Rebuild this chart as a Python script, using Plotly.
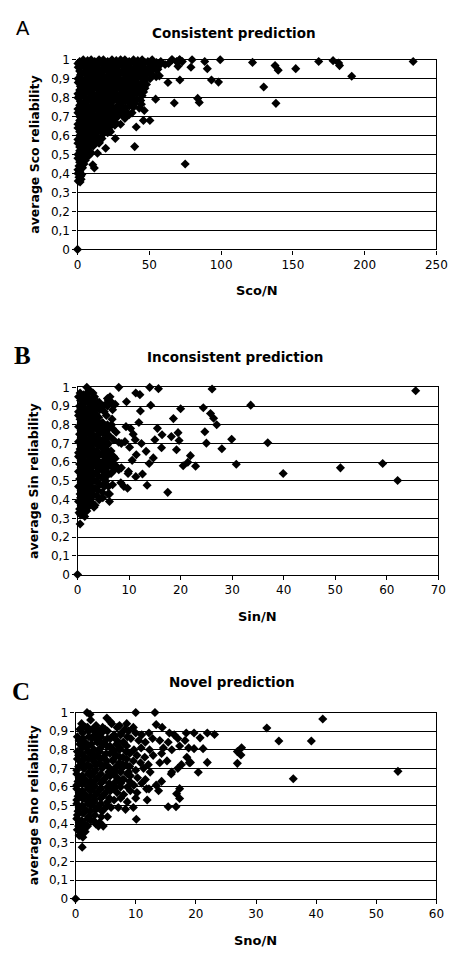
import plotly.graph_objects as go

# ---------------- Panel A: Consistent prediction ----------------
sco_x = [
    1.5, 4, 7, 9.5, 12, 15, 18, 21, 24, 27, 30, 33, 36, 39, 42, 45, 49, 52, 55, 58, 66, 69, 71, 73,
    0.3, 3, 5.5, 8, 10.5, 13.5, 16.5, 19.5, 22.5, 25.5, 28.5, 31.5, 34.5, 37.5, 40.5, 43.5, 47, 50.5, 54, 57,
    0.5, 3, 6, 9, 11.5, 14, 17, 20, 23, 26, 29, 32, 35, 38, 41, 44, 47, 50, 53, 56, 61,
    1.5, 4.5, 7.5, 10, 12.5, 15.5, 18.5, 21.5, 24.5, 27.5, 30.5, 33.5, 36.5, 39.5, 42.5, 45.5, 48.5, 51.5, 55,
    2, 5, 8, 10.5, 13, 16, 19, 22, 25, 28, 31, 34, 37, 40, 43, 46, 49, 52, 57,
    0.3, 3.5, 6.5, 9.5, 11.5, 14.5, 17.5, 20.5, 23.5, 26.5, 29.5, 32.5, 35.5, 38.5, 41.5, 44.5, 47.5, 50.5,
    0.5, 3.5, 6.5, 9, 12, 15, 18, 21, 24, 27, 30, 33, 36, 39, 42, 45, 48,
    2, 5, 8, 10.5, 13.5, 16.5, 19.5, 22.5, 25.5, 28.5, 31.5, 34.5, 37.5, 40.5, 43.5, 47,
    1.5, 4.5, 7.5, 10, 13, 16, 19, 22, 25, 28, 31, 34, 37, 40, 43, 46,
    0.3, 3, 6, 9, 11.5, 14.5, 17.5, 20.5, 23.5, 26.5, 29.5, 32.5, 35.5, 38.5, 41.5, 45,
    0.3, 3, 6, 8.5, 11, 14, 17, 20, 23, 26, 29, 32, 35, 38, 41, 44,
    2, 5, 7.5, 10, 12.5, 15.5, 18.5, 21.5, 24.5, 27.5, 30.5, 33.5, 36.5, 40, 44.5,
    1.5, 4.5, 7, 10, 12.5, 15, 18, 21, 24, 27, 30, 33, 36, 39, 43,
    0.3, 3, 5.5, 8.5, 11, 14, 16.5, 19.5, 22.5, 25.5, 28.5, 31, 34, 38,
    0.3, 3, 5.5, 8, 11, 14, 17, 20, 23, 26, 29, 32, 36,
    1.5, 4, 7, 9.5, 12.5, 15.5, 18.5, 21.5, 25, 28, 33,
    1.5, 4, 6.5, 9, 12, 15, 18, 21, 24, 27, 30,
    0.3, 3, 5.5, 8, 11, 13.5, 16.5, 19.5, 23, 26,
    0.3, 2.5, 5, 7.5, 10, 13, 16, 19, 22,
    1.5, 4, 6.5, 9, 11.5, 14.5, 18, 21,
    1.5, 3.5, 6, 8.5, 11, 14, 17,
    0.3, 2.5, 5, 7.5, 10, 12.5, 15.5,
    0.3, 2.5, 4.5, 7, 10, 13, 15,
    1.5, 3.5, 5.5, 8, 11,
    1.5, 3.5, 6, 8, 9.5,
    0.3, 2.5, 4.5, 7, 9,
    0.3, 2, 4, 6, 8,
    1.5, 3, 5.5,
    1, 2.5, 4.5,
    0.3, 2, 3.5,
    0.3, 1.5, 3,
    1, 2.2,
    0.5, 1.8, 2.5,
    0,
    233.8, 191, 182.5, 181.9, 178, 168, 152, 139.8, 137.6, 138.2, 129.7, 121.9,
    99.4, 98.2, 93.3, 90.4, 88.6, 84.8, 83.7, 79.8, 79, 75, 71.3, 70, 71.3, 67.4,
    65.6, 63.4, 63, 54.8, 54.4, 50.4, 45.9, 46.5, 39.8, 40.9, 26.3, 23, 19.6,
    13.9, 11.7, 10.6, 13.9, 15.2,
]
sco_y = [
    0.99, 1.0, 0.995, 1.0, 0.99, 1.0, 1.0, 0.99, 1.0, 0.995, 1.0, 1.0, 0.99, 1.0, 0.995, 1.0, 0.99, 1.0, 0.985, 0.99, 1.0, 0.99, 1.0, 0.99,
    0.98, 0.975, 0.985, 0.98, 0.975, 0.98, 0.985, 0.975, 0.98, 0.985, 0.98, 0.975, 0.98, 0.985, 0.975, 0.98, 0.985, 0.975, 0.98, 0.97,
    0.96, 0.97, 0.955, 0.965, 0.96, 0.97, 0.95, 0.965, 0.96, 0.955, 0.97, 0.96, 0.965, 0.95, 0.96, 0.97, 0.955, 0.96, 0.97, 0.95, 0.975,
    0.94, 0.935, 0.945, 0.94, 0.935, 0.94, 0.945, 0.935, 0.94, 0.945, 0.935, 0.94, 0.945, 0.935, 0.94, 0.945, 0.935, 0.94, 0.945,
    0.92, 0.93, 0.915, 0.925, 0.92, 0.93, 0.91, 0.92, 0.925, 0.915, 0.93, 0.92, 0.91, 0.925, 0.92, 0.91, 0.93, 0.92, 0.915,
    0.90, 0.895, 0.905, 0.90, 0.895, 0.90, 0.905, 0.895, 0.90, 0.905, 0.895, 0.90, 0.905, 0.895, 0.90, 0.905, 0.895, 0.90,
    0.88, 0.885, 0.875, 0.88, 0.89, 0.87, 0.885, 0.88, 0.875, 0.89, 0.88, 0.87, 0.885, 0.88, 0.875, 0.88, 0.87,
    0.86, 0.855, 0.865, 0.86, 0.855, 0.86, 0.865, 0.855, 0.86, 0.865, 0.855, 0.86, 0.865, 0.855, 0.86, 0.85,
    0.84, 0.845, 0.835, 0.84, 0.85, 0.83, 0.845, 0.84, 0.835, 0.85, 0.84, 0.83, 0.845, 0.84, 0.835, 0.83,
    0.82, 0.815, 0.825, 0.82, 0.815, 0.82, 0.825, 0.815, 0.82, 0.825, 0.815, 0.82, 0.825, 0.815, 0.82, 0.81,
    0.80, 0.81, 0.795, 0.80, 0.805, 0.79, 0.80, 0.81, 0.795, 0.80, 0.79, 0.805, 0.80, 0.795, 0.79, 0.785,
    0.78, 0.775, 0.785, 0.78, 0.775, 0.78, 0.785, 0.775, 0.78, 0.785, 0.775, 0.78, 0.775, 0.77, 0.765,
    0.76, 0.765, 0.755, 0.76, 0.77, 0.75, 0.765, 0.76, 0.755, 0.75, 0.76, 0.745, 0.755, 0.75, 0.745,
    0.74, 0.735, 0.745, 0.74, 0.735, 0.74, 0.745, 0.735, 0.74, 0.735, 0.73, 0.735, 0.725, 0.72,
    0.72, 0.725, 0.715, 0.72, 0.73, 0.71, 0.72, 0.725, 0.715, 0.71, 0.72, 0.705, 0.71,
    0.70, 0.695, 0.705, 0.70, 0.695, 0.70, 0.705, 0.695, 0.69, 0.70, 0.69,
    0.68, 0.685, 0.675, 0.68, 0.69, 0.67, 0.68, 0.675, 0.67, 0.665, 0.66,
    0.66, 0.655, 0.665, 0.66, 0.655, 0.66, 0.665, 0.655, 0.65, 0.655,
    0.64, 0.645, 0.635, 0.64, 0.65, 0.63, 0.64, 0.635, 0.63,
    0.62, 0.615, 0.625, 0.62, 0.615, 0.62, 0.61, 0.615,
    0.60, 0.605, 0.595, 0.60, 0.61, 0.59, 0.585,
    0.58, 0.575, 0.585, 0.58, 0.575, 0.58, 0.575,
    0.56, 0.565, 0.555, 0.56, 0.57, 0.565, 0.56,
    0.54, 0.535, 0.545, 0.54, 0.545,
    0.52, 0.525, 0.515, 0.52, 0.51,
    0.50, 0.495, 0.505, 0.50, 0.505,
    0.48, 0.485, 0.475, 0.49, 0.495,
    0.46, 0.465, 0.47,
    0.44, 0.445, 0.45,
    0.42, 0.425, 0.43,
    0.40, 0.41, 0.395,
    0.38, 0.385,
    0.36, 0.355, 0.37,
    0,
    0.991, 0.913, 0.969, 0.983, 0.995, 0.991, 0.953, 0.945, 0.969, 0.770, 0.856, 0.986,
    1.0, 0.882, 0.893, 0.953, 0.991, 0.775, 0.796, 1.0, 0.96, 0.45, 1.0, 0.965, 0.893, 0.772,
    1.0, 0.98, 0.88, 0.91, 0.792, 0.68, 0.68, 0.732, 0.542, 0.645, 0.585, 0.62, 0.533,
    0.507, 0.429, 0.446, 0.576, 0.565,
]

# ---------------- Panel B: Inconsistent prediction ----------------
sin_x = [
    1.8, 2.2, 2.8,
    0.5, 1.2, 2.5, 3.0,
    0.2, 0.9, 1.6, 2.5, 3.3, 4.2, 5.8, 6.3,
    0.6, 1.4, 2.2, 3.0, 3.9, 5.0, 6.0,
    0.4, 1.2, 2.0, 2.8, 3.6, 4.5, 5.5, 6.6, 7.3,
    0.6, 1.5, 2.3, 3.2, 4.0, 5.8,
    0.2, 1.0, 1.8, 2.6, 3.4, 4.3, 5.2, 6.8,
    0.2, 0.9, 1.7, 2.5, 3.3, 4.1, 5.6,
    0.5, 1.3, 2.1, 2.9, 3.8, 4.8, 6.7,
    0.7, 1.5, 2.3, 3.1, 4.0, 4.9, 5.8,
    0.2, 1.0, 1.8, 2.6, 3.4, 4.2, 5.0, 5.9, 6.6, 9.4, 10.3,
    0.7, 1.5, 2.3, 3.1, 3.9, 4.8, 5.7, 6.8,
    0.4, 1.2, 2.0, 2.8, 3.7, 4.5, 5.4, 6.2, 7.5, 10.8,
    0.7, 1.5, 2.4, 3.2, 4.0, 4.9, 5.8, 7.0,
    0.2, 1.0, 1.8, 2.6, 3.4, 4.2, 5.1, 6.0, 8.5, 9.2, 11.2, 12.4,
    0.7, 1.5, 2.3, 3.1, 3.9, 4.8, 5.7,
    0.5, 1.3, 2.1, 2.9, 3.7, 4.6, 5.5, 6.5, 10.1,
    0.2, 0.9, 1.7, 2.5, 3.3, 4.1, 5.0, 6.0, 7.3,
    0.2, 1.0, 1.8, 2.6, 3.4, 4.3, 5.2, 6.1, 7.0, 11.4,
    0.7, 1.5, 2.3, 3.1, 3.9, 4.8, 5.7, 6.7,
    0.4, 1.2, 2.0, 2.8, 3.6, 4.5, 5.4, 6.4, 7.5, 8.5, 10.6,
    0.7, 1.5, 2.3, 3.1, 3.9, 4.8, 5.7, 6.6, 8.0,
    0.2, 1.0, 1.8, 2.6, 3.4, 4.2, 5.1, 6.0, 7.2, 9.9,
    0.7, 1.5, 2.3, 3.1, 3.9, 4.8, 5.8, 6.5,
    0.4, 1.2, 2.0, 2.8, 3.7, 4.6, 5.5, 8.4,
    0.7, 1.5, 2.3, 3.2, 4.0, 5.0, 6.0,
    0.2, 1.0, 1.8, 2.6, 3.4, 4.3, 5.2, 6.8, 9.0,
    0.7, 1.4, 2.2, 3.0, 3.9, 4.8, 6.2,
    0.5, 1.3, 2.1, 2.9, 3.8, 4.9, 5.9,
    0.6, 1.4, 2.2, 3.0, 4.2,
    0.2, 1.0, 1.8, 2.6, 3.4, 6.2,
    0.7, 1.5, 2.3, 3.2,
    0.4, 1.2, 2.0, 2.9,
    0.3, 1.0, 1.8,
    0.6, 1.4,
    0.5,
    0,
    65.6, 62.1, 59.2, 51, 39.9, 36.9, 33.6, 30.8, 29.9, 28, 27, 26.4, 25.8,
    26.1, 24.4, 24.7, 25, 22.9, 21.9, 21.4, 20.5, 20, 19.7, 19.5, 19.2, 18.2,
    18.6, 17.5, 16.3, 16.4, 15.5, 15.7, 14, 14.2, 14.7, 15, 13.9, 13.5, 13.3,
    12.6, 12.2, 11.9, 12.1, 11.3, 11.3, 8, 9.5, 9.8, 9.7, 8,
]
sin_y = [
    1.0, 0.98, 0.97,
    0.97, 0.96, 0.98, 0.97,
    0.95, 0.94, 0.96, 0.93, 0.95, 0.92, 0.94, 0.95,
    0.93, 0.92, 0.94, 0.93, 0.92, 0.90, 0.93,
    0.90, 0.91, 0.92, 0.90, 0.91, 0.89, 0.91, 0.92, 0.91,
    0.89, 0.88, 0.89, 0.88, 0.89, 0.90,
    0.87, 0.86, 0.88, 0.87, 0.86, 0.88, 0.87, 0.88,
    0.85, 0.84, 0.85, 0.84, 0.85, 0.84, 0.85,
    0.83, 0.82, 0.84, 0.83, 0.82, 0.81, 0.83,
    0.81, 0.80, 0.81, 0.82, 0.80, 0.81, 0.80,
    0.79, 0.80, 0.78, 0.79, 0.80, 0.78, 0.79, 0.78, 0.80, 0.79, 0.78,
    0.77, 0.76, 0.77, 0.78, 0.77, 0.76, 0.77, 0.78,
    0.75, 0.74, 0.76, 0.75, 0.74, 0.76, 0.75, 0.74, 0.76, 0.75,
    0.73, 0.72, 0.73, 0.74, 0.73, 0.72, 0.73, 0.72,
    0.71, 0.72, 0.70, 0.71, 0.72, 0.70, 0.71, 0.70, 0.70, 0.71, 0.72, 0.70,
    0.69, 0.68, 0.69, 0.70, 0.69, 0.68, 0.69,
    0.67, 0.66, 0.68, 0.67, 0.66, 0.68, 0.67, 0.66, 0.68,
    0.65, 0.64, 0.65, 0.66, 0.65, 0.64, 0.65, 0.64, 0.62,
    0.63, 0.62, 0.64, 0.63, 0.62, 0.64, 0.63, 0.62, 0.63, 0.64,
    0.61, 0.60, 0.61, 0.62, 0.61, 0.60, 0.61, 0.60,
    0.59, 0.60, 0.58, 0.59, 0.60, 0.58, 0.59, 0.60, 0.58, 0.57, 0.61,
    0.57, 0.56, 0.57, 0.58, 0.57, 0.56, 0.57, 0.58, 0.56,
    0.55, 0.54, 0.56, 0.55, 0.54, 0.56, 0.55, 0.54, 0.56, 0.55,
    0.53, 0.52, 0.53, 0.54, 0.53, 0.52, 0.53, 0.54,
    0.51, 0.50, 0.52, 0.51, 0.50, 0.52, 0.50, 0.49,
    0.49, 0.48, 0.49, 0.50, 0.49, 0.48, 0.47,
    0.47, 0.46, 0.48, 0.47, 0.46, 0.48, 0.47, 0.48, 0.47,
    0.45, 0.44, 0.45, 0.46, 0.45, 0.44, 0.43,
    0.43, 0.42, 0.44, 0.43, 0.42, 0.41, 0.43,
    0.41, 0.40, 0.41, 0.42, 0.40,
    0.39, 0.38, 0.40, 0.39, 0.37, 0.39,
    0.37, 0.36, 0.37, 0.36,
    0.35, 0.34, 0.36, 0.37,
    0.33, 0.32, 0.34,
    0.32, 0.31,
    0.27,
    0,
    0.982, 0.502, 0.593, 0.570, 0.540, 0.704, 0.905, 0.589, 0.723, 0.672, 0.80, 0.835, 0.86,
    0.991, 0.891, 0.763, 0.702, 0.579, 0.635, 0.60, 0.581, 0.886, 0.716, 0.758, 0.667, 0.737,
    0.833, 0.439, 0.677, 0.747, 0.781, 0.993, 1.0, 0.904, 0.623, 0.72, 0.593, 0.477, 0.658,
    0.537, 0.874, 0.812, 0.961, 0.97, 0.523, 1.0, 0.923, 0.54, 0.461, 0.707,
]

# ---------------- Panel C: Novel prediction ----------------
sno_x = [
    1.9, 2.4, 10.0, 13.2,
    2.5, 5.2, 5.8, 13.4,
    1.0, 2.0, 3.4, 4.5, 6.0, 7.3, 8.5, 9.6, 14.4,
    0.7, 1.7, 2.8, 3.8, 4.9, 6.9, 8.2,
    1.2, 2.2, 3.3, 4.3, 5.3, 6.4, 7.6, 8.8, 10.0, 11.0, 12.2, 15.6, 16.4,
    0.3, 1.2, 2.2, 3.2, 4.2, 5.3, 6.4, 7.5, 8.6,
    0.6, 1.6, 2.7, 3.7, 4.7, 5.8, 6.9, 8.0, 9.2, 10.5, 11.6, 12.8, 14.0, 15.4, 17.0, 18.2,
    0.7, 1.6, 2.6, 3.6, 4.6, 5.7, 6.8, 7.9,
    1.1, 2.1, 3.1, 4.1, 5.2, 6.3, 7.4, 8.5, 9.7, 10.9, 12.3, 14.6, 16.0, 17.3, 18.8,
    0.3, 1.0, 2.0, 3.0, 4.0, 5.1, 6.2, 7.3, 8.4,
    0.5, 1.5, 2.5, 3.5, 4.6, 5.7, 6.8, 7.9, 9.0, 10.2, 11.5, 12.9, 14.3, 18.5,
    0.3, 1.1, 2.1, 3.1, 4.1, 5.2, 6.3, 7.4, 8.5,
    1.0, 2.0, 3.0, 4.0, 5.1, 6.2, 7.3, 8.4, 9.6, 10.8, 12.1, 14.0, 15.2, 17.6, 18.9,
    0.5, 1.5, 2.5, 3.5, 4.6, 5.7, 6.8, 7.9, 9.0,
    0.2, 1.3, 2.3, 3.3, 4.4, 5.5, 6.6, 7.7, 8.8, 10.0, 11.3, 12.4, 16.0, 17.0,
    0.2, 1.1, 2.1, 3.1, 4.2, 5.3, 6.4, 7.5, 8.6,
    0.6, 1.6, 2.6, 3.6, 4.7, 5.8, 6.9, 8.0, 9.1, 10.3, 11.6, 15.9,
    0.4, 1.4, 2.4, 3.4, 4.5, 5.6, 6.7, 7.8, 9.0,
    0.2, 1.1, 2.1, 3.1, 4.2, 5.3, 6.4, 7.5, 8.6, 9.7, 11.0, 12.2, 13.4, 14.3,
    0.2, 1.1, 2.1, 3.1, 4.2, 5.3, 6.4, 7.5,
    0.6, 1.6, 2.6, 3.6, 4.7, 5.8, 6.9, 8.0, 9.1, 10.2, 11.8, 13.8,
    0.4, 1.4, 2.4, 3.4, 4.5, 5.6,
    0.2, 1.1, 2.1, 3.1, 4.2, 5.3, 6.4, 7.5, 8.6, 10.0, 11.9,
    0.2, 1.1, 2.1, 3.1, 4.2, 5.3,
    0.6, 1.6, 2.6, 3.6, 4.7, 5.9, 7.1, 8.3, 9.6,
    0.4, 1.4, 2.4, 3.4, 4.4,
    0.3, 1.2, 2.2, 3.2, 4.3, 5.3,
    0.2, 1.0, 2.0, 3.0, 4.0,
    0.6, 1.5, 2.5, 3.4, 4.6,
    0.5, 1.3, 2.0, 3.8,
    0.3, 1.0, 1.6,
    0.6, 1.2,
    1.1, 10.1, 15.4, 16.7, 16.8, 17.3, 17.3, 20.4, 21.9, 21.2, 20.7, 19.7, 21.9,
    23.1, 19.1, 19.7, 18.4, 26.9, 26.9, 27.5, 27.6, 31.8, 33.8, 36.2, 39.2, 41.1, 53.6,
    0,
]
sno_y = [
    1.0, 0.99, 1.0, 1.0,
    0.96, 0.97, 0.95, 0.935,
    0.94, 0.92, 0.93, 0.92, 0.94, 0.93, 0.94, 0.92, 0.92,
    0.91, 0.92, 0.91, 0.90, 0.91, 0.92, 0.91,
    0.89, 0.90, 0.88, 0.89, 0.90, 0.88, 0.89, 0.90, 0.89, 0.88, 0.89, 0.89, 0.88,
    0.87, 0.86, 0.87, 0.88, 0.87, 0.86, 0.87, 0.88, 0.87,
    0.85, 0.84, 0.86, 0.85, 0.84, 0.86, 0.85, 0.84, 0.86, 0.85, 0.84, 0.86, 0.85, 0.84, 0.86, 0.85,
    0.83, 0.82, 0.83, 0.84, 0.83, 0.82, 0.83, 0.84,
    0.81, 0.82, 0.80, 0.81, 0.82, 0.80, 0.81, 0.82, 0.80, 0.81, 0.80, 0.81, 0.80, 0.82, 0.81,
    0.79, 0.78, 0.79, 0.80, 0.79, 0.78, 0.79, 0.80, 0.79,
    0.77, 0.76, 0.78, 0.77, 0.76, 0.78, 0.77, 0.76, 0.78, 0.77, 0.76, 0.77, 0.78, 0.76,
    0.75, 0.74, 0.75, 0.76, 0.75, 0.74, 0.75, 0.76, 0.75,
    0.73, 0.72, 0.74, 0.73, 0.72, 0.74, 0.73, 0.72, 0.74, 0.73, 0.72, 0.73, 0.74, 0.72, 0.73,
    0.71, 0.70, 0.71, 0.72, 0.71, 0.70, 0.71, 0.72, 0.71,
    0.69, 0.70, 0.68, 0.69, 0.70, 0.68, 0.69, 0.70, 0.68, 0.69, 0.70, 0.68, 0.68, 0.70,
    0.67, 0.66, 0.67, 0.68, 0.67, 0.66, 0.67, 0.68, 0.67,
    0.65, 0.64, 0.66, 0.65, 0.64, 0.66, 0.65, 0.64, 0.66, 0.65, 0.64, 0.67,
    0.63, 0.62, 0.63, 0.64, 0.63, 0.62, 0.63, 0.64, 0.63,
    0.61, 0.62, 0.60, 0.61, 0.62, 0.60, 0.61, 0.62, 0.60, 0.61, 0.62, 0.59, 0.61, 0.63,
    0.59, 0.58, 0.59, 0.60, 0.59, 0.58, 0.59, 0.60,
    0.57, 0.56, 0.58, 0.57, 0.56, 0.58, 0.57, 0.56, 0.58, 0.57, 0.59, 0.58,
    0.55, 0.54, 0.55, 0.56, 0.55, 0.54,
    0.53, 0.54, 0.52, 0.53, 0.54, 0.52, 0.53, 0.54, 0.52, 0.54, 0.53,
    0.51, 0.50, 0.51, 0.52, 0.51, 0.50,
    0.49, 0.48, 0.50, 0.49, 0.48, 0.49, 0.49, 0.48, 0.49,
    0.47, 0.46, 0.47, 0.48, 0.47,
    0.45, 0.46, 0.44, 0.45, 0.44, 0.44,
    0.43, 0.42, 0.43, 0.42, 0.41,
    0.41, 0.40, 0.42, 0.40, 0.39,
    0.39, 0.38, 0.39, 0.39,
    0.37, 0.35, 0.36,
    0.34, 0.33,
    0.277, 0.427, 0.494, 0.494, 0.564, 0.538, 0.591, 0.679, 0.732, 0.806, 0.864, 0.89, 0.89,
    0.882, 0.732, 0.806, 0.89, 0.727, 0.79, 0.772, 0.811, 0.917, 0.847, 0.644, 0.847, 0.965, 0.684,
    0,
]

assert len(sco_x) == len(sco_y), (len(sco_x), len(sco_y))
assert len(sin_x) == len(sin_y), (len(sin_x), len(sin_y))
assert len(sno_x) == len(sno_y), (len(sno_x), len(sno_y))

panel_letters = ["A", "B", "C"]
panel_titles = ["Consistent prediction", "Inconsistent prediction", "Novel prediction"]
x_titles = ["Sco/N", "Sin/N", "Sno/N"]
y_titles = ["average Sco reliability", "average Sin reliability", "average Sno reliability"]
x_max = [250, 70, 60]
x_step = [50, 10, 10]

W, H = 460, 955
# pixel boxes of plot areas: (left, right, top, bottom)
boxes = [(76, 447, 53.5, 246), (76, 449, 386, 576), (74, 447, 716, 905)]
title_pos = [(238, 26), (239, 355), (236, 685)]
ytitle_pos = [(32, 150), (31, 481), (30, 810)]
xtitle_pos = [(262, 288), (262, 619), (260, 947)]
letter_pos = [(20, 21), (19, 354), (18, 695)]
letter_font = [dict(family="Liberation Sans", size=20, color="black"),
               dict(family="Liberation Serif", size=25, color="black"),
               dict(family="Liberation Serif", size=25, color="black")]
letter_bold = [False, True, True]

datasets = [(sco_x, sco_y), (sin_x, sin_y), (sno_x, sno_y)]

fig = go.Figure()
FONT = "DejaVu Sans"
annotations = []
for i, ((xs, ys), box) in enumerate(zip(datasets, boxes)):
    n = "" if i == 0 else str(i + 1)
    fig.add_trace(go.Scatter(
        x=xs, y=ys, mode="markers", xaxis="x" + n, yaxis="y" + n,
        marker=dict(symbol="diamond", size=7, color="black", line=dict(width=0)),
        cliponaxis=False, showlegend=False, hoverinfo="skip",
    ))
    l, r, t, b = box
    fig.update_layout({
        "xaxis" + n: dict(
            domain=[l / W, r / W], anchor="y" + n, range=[0, x_max[i]], dtick=x_step[i],
            showgrid=False, zeroline=False, showline=True, mirror=True,
            linecolor="black", linewidth=1.3, ticks="outside", ticklen=4,
            tickcolor="black", tickwidth=1,
            tickfont=dict(family=FONT, size=12, color="black"),
        ),
        "yaxis" + n: dict(
            domain=[1 - b / H, 1 - t / H], anchor="x" + n, range=[0, 1], dtick=0.1,
            showgrid=True, gridcolor="black", gridwidth=1.3, zeroline=False,
            showline=True, mirror=True, linecolor="black", linewidth=1.3,
            ticks="outside", ticklen=4, tickcolor="black", tickwidth=1,
            tickfont=dict(family=FONT, size=12, color="black"),
        ),
    })
    px_, py_ = title_pos[i]
    annotations.append(dict(text="<b>%s</b>" % panel_titles[i], x=px_ / W, y=1 - py_ / H,
                            xref="paper", yref="paper", showarrow=False,
                            font=dict(family=FONT, size=13.5, color="black"),
                            xanchor="center", yanchor="middle"))
    px_, py_ = ytitle_pos[i]
    annotations.append(dict(text="<b>%s</b>" % y_titles[i], x=px_ / W, y=1 - py_ / H,
                            xref="paper", yref="paper", showarrow=False, textangle=-90,
                            font=dict(family=FONT, size=12.5, color="black"),
                            xanchor="center", yanchor="middle"))
    px_, py_ = xtitle_pos[i]
    annotations.append(dict(text="<b>%s</b>" % x_titles[i], x=px_ / W, y=1 - py_ / H,
                            xref="paper", yref="paper", showarrow=False,
                            font=dict(family=FONT, size=13, color="black"),
                            xanchor="center", yanchor="middle"))
    px_, py_ = letter_pos[i]
    txt = ("<b>%s</b>" if letter_bold[i] else "%s") % panel_letters[i]
    annotations.append(dict(text=txt, x=px_ / W, y=1 - py_ / H,
                            xref="paper", yref="paper", showarrow=False,
                            font=letter_font[i], xanchor="center", yanchor="middle"))

fig.update_layout(
    width=W, height=H, margin=dict(l=0, r=0, t=0, b=0),
    paper_bgcolor="white", plot_bgcolor="white",
    separators=",.", annotations=annotations, showlegend=False,
)

fig.write_html("out.html", config={"displayModeBar": False},
               post_script="document.body.style.margin='0px';")
